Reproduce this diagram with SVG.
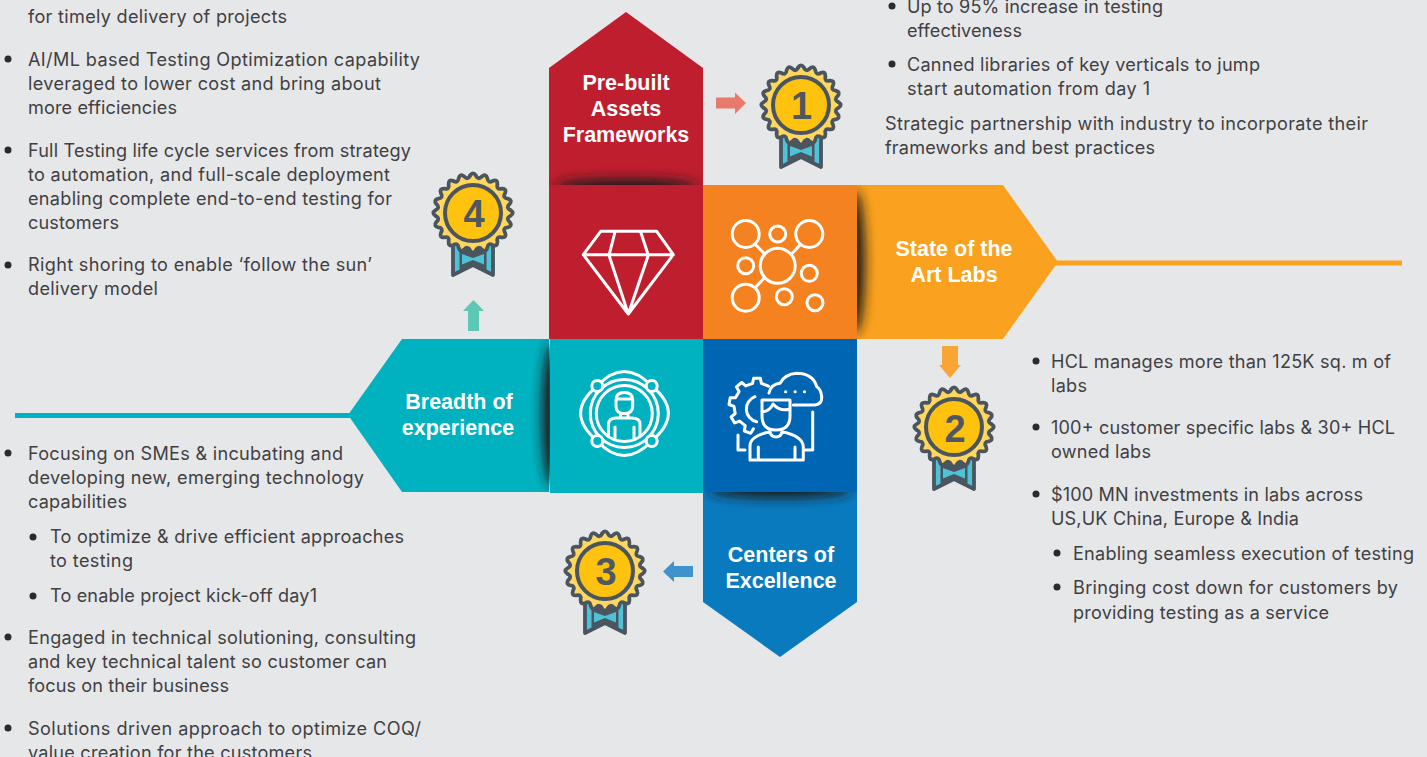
<svg xmlns="http://www.w3.org/2000/svg" xmlns:xlink="http://www.w3.org/1999/xlink" width="1427" height="757" viewBox="0 0 1427 757">
<style>
.t{font-family:Inter,"Open Sans","Liberation Sans",sans-serif;font-size:18.1px;fill:#414042}
.h{font-family:"Liberation Sans",Arial,sans-serif;font-weight:700;font-size:21.5px;fill:#fff;text-anchor:middle}
.n{font-family:"Liberation Sans",Arial,sans-serif;font-weight:700;font-size:38px;fill:#4f5862;text-anchor:middle}
.i{fill:none;stroke:#fff;stroke-width:3;stroke-linejoin:round;stroke-linecap:round}
.b{fill:#2b2b2d}
.wf{fill:#ffd75e}
.ws{fill:none;stroke:#4a5560;stroke-width:3.8;stroke-linejoin:round;stroke-linecap:round}
</style>
<defs>
<filter id="bl" x="-30%" y="-100%" width="160%" height="300%"><feGaussianBlur stdDeviation="6"/></filter>
<filter id="blv" x="-100%" y="-30%" width="300%" height="160%"><feGaussianBlur stdDeviation="6"/></filter>
<clipPath id="cT"><rect x="549" y="150" width="154" height="35"/></clipPath>
<clipPath id="cR"><rect x="857" y="185" width="40" height="154"/></clipPath>
<clipPath id="cL"><rect x="510" y="339" width="40" height="153"/></clipPath>
<clipPath id="cB"><rect x="703" y="492" width="154" height="40"/></clipPath>
<path id="qf" class="wf" d="M0 0L37.400 -2.900Q42 0 37.400 2.900Q32.600 5.200 36.500 8.800Q39.900 13 34.600 14.400Q29.400 15 32 19.600Q34 24.700 28.500 24.400Q23.300 23.300 24.400 28.500Q24.700 34 19.600 32Q15 29.400 14.400 34.600Q13 39.900 8.800 36.500Q5.200 32.600 2.900 37.400Z"/>
<path id="qs" class="ws" d="M37.400 -2.900Q42 0 37.400 2.900Q32.600 5.200 36.500 8.800Q39.900 13 34.600 14.400Q29.400 15 32 19.600Q34 24.700 28.500 24.400Q23.300 23.300 24.400 28.500Q24.700 34 19.600 32Q15 29.400 14.400 34.600Q13 39.900 8.800 36.500Q5.200 32.600 2.900 37.400"/>
<g id="badge">
<path d="M-20 30V62L0 52L20 62V30Z" fill="#4ec3d6" stroke="#4a5560" stroke-width="3.800" stroke-linejoin="round"/>
<path d="M-13.500 30V57L0 50.500L13.500 57V30Z" fill="#4a5560"/>
<path d="M-11 41L0 45L11 41V51.500L0 47L-11 51.500Z" fill="#4ec3d6"/>
<use href="#qf"/><use href="#qf" transform="rotate(90)"/><use href="#qf" transform="rotate(180)"/><use href="#qf" transform="rotate(270)"/>
<circle r="36" fill="#ffd75e"/>
<use href="#qs"/><use href="#qs" transform="rotate(90)"/><use href="#qs" transform="rotate(180)"/><use href="#qs" transform="rotate(270)"/>
<circle r="28" fill="#ffc20e" stroke="#4a5560" stroke-width="4"/>
</g>
</defs>
<rect width="1427" height="757" fill="#e6e7e9"/>

<g id="connectors">
<rect x="1050" y="260.500" width="352" height="5" fill="#faa21f"/>
<rect x="15" y="413" width="340" height="5" fill="#00b2bf"/>
<path d="M716 97.500H735V92.500L746 103L735 114V108.500H716Z" fill="#e8796d"/>
<path d="M942 346H958V365H961L950 378L939 365H942Z" fill="#f9a533"/>
<path d="M693 566H674V561L663 571.500L674 582V577H693Z" fill="#3f92cb"/>
<path d="M468 331V311H463L473.500 300L484 311H479V331Z" fill="#5cc8b5"/>
</g>

<g id="node-assets">
<path d="M549 68L626 12L703 68V185H549Z" fill="#be1e2d"/>
<g clip-path="url(#cT)"><ellipse cx="626" cy="187" rx="72" ry="8" fill="#1c1c1e" filter="url(#bl)"/></g>
<text class="h" x="626" y="90">Pre-built</text>
<text class="h" x="626" y="116">Assets</text>
<text class="h" x="626" y="142">Frameworks</text>
</g>
<g id="node-labs">
<path d="M857 185H1003L1058 262L1003 339H857Z" fill="#faa21f"/>
<g clip-path="url(#cR)"><ellipse cx="855" cy="262" rx="10" ry="72" fill="#1c1c1e" filter="url(#blv)"/></g>
<text class="h" x="954" y="256">State of the</text>
<text class="h" x="954" y="282">Art Labs</text>
</g>
<g id="node-breadth">
<path d="M549 339H402L348 415L402 492H549Z" fill="#00b2bf"/>
<g clip-path="url(#cL)"><ellipse cx="552" cy="415" rx="10" ry="72" fill="#1c1c1e" filter="url(#blv)"/></g>
<text class="h" x="459" y="409">Breadth of</text>
<text class="h" x="458" y="435">experience</text>
</g>
<g id="node-coe">
<path d="M703 492H857V602L780 657L703 602Z" fill="#0a7abf"/>
<g clip-path="url(#cB)"><ellipse cx="780" cy="490" rx="72" ry="8" fill="#1c1c1e" filter="url(#bl)"/></g>
<text class="h" x="781" y="562">Centers of</text>
<text class="h" x="781" y="588">Excellence</text>
</g>

<g id="node-square-diamond">
<rect x="549" y="185" width="154" height="154" fill="#be1e2d"/>
<path class="i" d="M600.700 231.300H656.700L673.300 254.700L628.300 314L583.300 254.700ZM583.300 254.700H673.300M615 232L609 255.300L628.300 314L648.300 255.300L640.700 232"/>
</g>
<g id="node-square-network">
<rect x="703" y="185" width="154" height="154" fill="#f58220"/>
<g class="i">
<circle cx="745.700" cy="234" r="13.500"/><circle cx="809.300" cy="234" r="13.500"/><circle cx="777.700" cy="234" r="8"/>
<circle cx="745.700" cy="265.700" r="8"/><circle cx="777.700" cy="265.700" r="17.500"/><circle cx="809.300" cy="273.300" r="8"/>
<circle cx="745.700" cy="297.700" r="13.500"/><circle cx="784.300" cy="296.700" r="8"/><circle cx="815" cy="302.700" r="8"/>
<path d="M756 245L764 253.300M800 245L792.300 253.300M756 286.700L764 278.300"/>
</g>
</g>
<g id="node-square-person">
<rect x="550" y="339" width="153" height="154" fill="#00b2bf"/>
<g class="i">
<circle cx="624.300" cy="413.500" r="28"/><circle cx="624.300" cy="413.500" r="34"/>
<path d="M597.300 386Q624 357 651.700 386M597.300 441Q624 470 651.700 441M597.300 386Q564 413 597.300 441M651.700 386Q685 413 651.700 441"/>
<g fill="#00b2bf"><circle cx="597.300" cy="386" r="5.500"/><circle cx="651.700" cy="386" r="5.500"/><circle cx="597.300" cy="441" r="5.500"/><circle cx="651.700" cy="441" r="5.500"/></g>
<path d="M616 400Q616 392.500 624.300 392.500Q632.700 392.500 632.700 400V406Q632.700 413.500 624.300 413.500Q616 413.500 616 406ZM616 399H632.700M620.500 413V418H628V413M608.500 436V424Q609 418 616 418H632Q640 418 640 424V436M615 427V438M634 427V438"/>
</g>
</g>
<g id="node-square-cog">
<rect x="703" y="339" width="154" height="153" fill="#0066b3"/>
<g class="i">
<path d="M768.500 386.100L761.400 383.400L760.400 378.200H753.600L752.600 383.400L745.800 385.900L741.700 382.500L736.500 386.900L739.100 391.500L735.500 397.800H730.200L729 404.500L734 406.400L735.200 413.500L731.200 416.900L734.600 422.900L739.600 421.100L745.200 425.700L744.300 431L750.700 433.300L753.400 428.700"/>
<path d="M755 396.700A13 13 0 0 0 756.700 421.700"/>
<path d="M793.300 405H815Q822 404 821.700 397Q821 389 816.700 386.700Q813 373.500 796.700 373.300Q785 374 780 383.300Q771 384 769 393"/>
<path d="M785.500 391.700h.3M795 391.700h.3M804.300 391.700h.3"/>
<path d="M762 400H790V416Q790 430 776 430Q762 430 762 416ZM762 412Q770 411 773 404Q780 412 790 409"/>
<path d="M750 460V446Q750 436 770 431.700Q771 437 776 437Q781 437 782 431.700Q803 436 803.300 447V460ZM758.300 447V460M795 447V460"/>
<path d="M738 435V450H745M812.700 412V450H805"/>
</g>
</g>

<g id="badge-1"><use href="#badge" x="801" y="105"/><text class="n" x="801.500" y="119">1</text></g>
<g id="badge-2"><use href="#badge" x="954" y="427"/><text class="n" x="955" y="442">2</text></g>
<g id="badge-3"><use href="#badge" x="605" y="571"/><text class="n" x="606" y="585">3</text></g>
<g id="badge-4"><use href="#badge" x="473" y="213"/><text class="n" x="474" y="227">4</text></g>

<g id="bullets" class="b">
<circle cx="8" cy="59" r="3.500"/><circle cx="8" cy="150" r="3.500"/><circle cx="8" cy="265" r="3.500"/><circle cx="8" cy="453" r="3.500"/><circle cx="33" cy="537" r="3.500"/><circle cx="33" cy="596" r="3.500"/><circle cx="8" cy="637" r="3.500"/><circle cx="8" cy="728" r="3.500"/>
<circle cx="892" cy="6" r="3.500"/><circle cx="892" cy="64" r="3.500"/>
<circle cx="1036" cy="361" r="3.500"/><circle cx="1036" cy="427" r="3.500"/><circle cx="1036" cy="494" r="3.500"/><circle cx="1057" cy="553" r="3.500"/><circle cx="1057" cy="587" r="3.500"/>
</g>

<g id="text-left">
<text class="t" x="28" y="23" textLength="259">for timely delivery of projects</text>
<text class="t" x="28" y="66" textLength="392">AI/ML based Testing Optimization capability</text>
<text class="t" x="28" y="90" textLength="353">leveraged to lower cost and bring about</text>
<text class="t" x="28" y="114" textLength="149">more efficiencies</text>
<text class="t" x="28" y="157" textLength="383">Full Testing life cycle services from strategy</text>
<text class="t" x="28" y="181" textLength="362">to automation, and full-scale deployment</text>
<text class="t" x="28" y="205" textLength="364">enabling complete end-to-end testing for</text>
<text class="t" x="28" y="229" textLength="91">customers</text>
<text class="t" x="28" y="271" textLength="344">Right shoring to enable ‘follow the sun’</text>
<text class="t" x="28" y="295" textLength="130">delivery model</text>
<text class="t" x="28" y="460" textLength="315">Focusing on SMEs &amp; incubating and</text>
<text class="t" x="28" y="484" textLength="336">developing new, emerging technology</text>
<text class="t" x="28" y="508" textLength="99">capabilities</text>
<text class="t" x="50" y="543" textLength="354">To optimize &amp; drive efficient approaches</text>
<text class="t" x="50" y="567" textLength="83">to testing</text>
<text class="t" x="50" y="602" textLength="267">To enable project kick-off day1</text>
<text class="t" x="28" y="644" textLength="388">Engaged in technical solutioning, consulting</text>
<text class="t" x="28" y="668" textLength="359">and key technical talent so customer can</text>
<text class="t" x="28" y="692" textLength="201">focus on their business</text>
<text class="t" x="28" y="735" textLength="393">Solutions driven approach to optimize COQ/</text>
<text class="t" x="28" y="759" textLength="284">value creation for the customers</text>
</g>
<g id="text-top-right">
<text class="t" x="907" y="13" textLength="256">Up to 95% increase in testing</text>
<text class="t" x="907" y="37" textLength="115">effectiveness</text>
<text class="t" x="907" y="71" textLength="353">Canned libraries of key verticals to jump</text>
<text class="t" x="907" y="95" textLength="243">start automation from day 1</text>
<text class="t" x="885" y="130" textLength="483">Strategic partnership with industry to incorporate their</text>
<text class="t" x="885" y="154" textLength="270">frameworks and best practices</text>
</g>
<g id="text-bottom-right">
<text class="t" x="1051" y="368" textLength="340">HCL manages more than 125K sq. m of</text>
<text class="t" x="1051" y="392" textLength="36">labs</text>
<text class="t" x="1051" y="434" textLength="344">100+ customer specific labs &amp; 30+ HCL</text>
<text class="t" x="1051" y="458" textLength="100">owned labs</text>
<text class="t" x="1051" y="501" textLength="312">$100 MN investments in labs across</text>
<text class="t" x="1051" y="525" textLength="248">US,UK China, Europe &amp; India</text>
<text class="t" x="1073" y="560" textLength="341">Enabling seamless execution of testing</text>
<text class="t" x="1073" y="594" textLength="325">Bringing cost down for customers by</text>
<text class="t" x="1073" y="619" textLength="256">providing testing as a service</text>
</g>
</svg>
